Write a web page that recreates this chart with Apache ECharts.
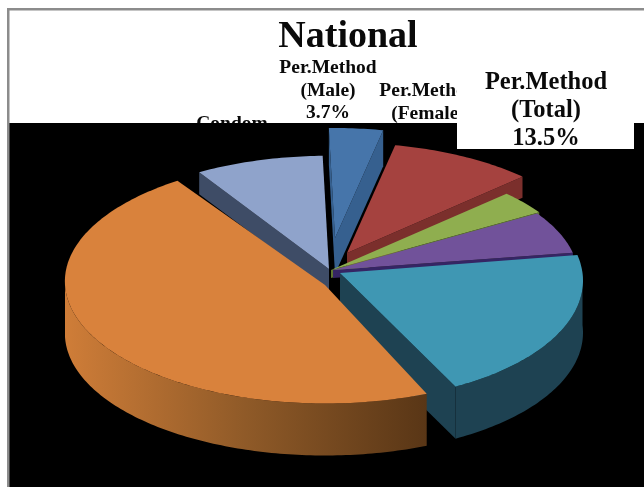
<!DOCTYPE html>
<html>
<head>
<meta charset="utf-8">
<style>html,body{margin:0;padding:0;background:#fff}#c{width:644px;height:487px}</style>
<script src="https://cdn.jsdelivr.net/npm/echarts@6/dist/echarts.min.js"></script>
</head>
<body>
<div id="c"></div>
<script>
// Data (only the first slices carry legible labels)
var categories = ['Per.Method (Male)', 'Per.Method (Female)', 'Slice 3', 'Slice 4', 'Slice 5', 'Slice 6', 'Condom'];
var shares = [3.7, 9.8, 3.4, 6.1, 20.0, 48.5, 8.5];
var titleText = 'National';
var maleLabel = ['Per.Method', '(Male)', '3.7%'];
var femaleLabel = ['Per.Method', '(Female)'];
var condomLabel = ['Condom'];
var totalLabel = ['Per.Method', '(Total)', '13.5%'];

// Look of the 3D pie
var SERIF = '"Liberation Serif","Times New Roman",serif';
var startAngle = -1.5;
var disk = { cx: 331, cy: 270, rx: 250, ry: 117 };
var sliceOffsetX = [4, 16, 0, 2, 9, -6, -2];
var sliceOffsetY = [-32, -17, 0, 0, 3, 15, -1];
var sliceScaleX = [1, 1, 1, 0.98, 0.97, 1.04, 1.03];
var sliceScaleY = [1, 1, 1, 0.98, 1.025, 1.043, 1.03];
var slicePersp = [0.064, 0.064, 0.064, 0.064, 0.064, -0.03, 0.064];
var sliceStartNudge = [0, 0, 0, 0, 0, 3, 0];
var sliceEndNudge = [0, 0, 0, 0, 0, -1.5, 0];
var sliceDepth = [36, 21, 8, 8, 52, 52, 22];
var paintRank = [1, 2, 3, 4, 5, 7, 6];
var topColors = ['#4675aa', '#a5423f', '#8fae4f', '#71529a', '#3f97b3', '#d9823c', '#8fa3cb'];
var wallColors = ['#36608f', '#7b2f2c', '#5e7530', '#352564', '#1e4252', null, '#3e4c66'];
var orangeWall = ['#cf7d38', '#8f5a28', '#593616'];

function sliceAngles(i) {
  var total = shares.reduce(function (a, b) { return a + b; }, 0), acc = 0;
  for (var k = 0; k < i; k++) acc += shares[k];
  return [
    startAngle + acc / total * 360 + sliceStartNudge[i],
    startAngle + (acc + shares[i]) / total * 360 + sliceEndNudge[i]
  ];
}
function project(i, frac, deg, drop) {
  var t = deg * Math.PI / 180;
  var X = frac * Math.sin(t), Y = -frac * Math.cos(t);
  var den = 1 - slicePersp[i] * Y;
  return [
    disk.cx + sliceOffsetX[i] + sliceScaleX[i] * disk.rx * X / den,
    disk.cy + sliceOffsetY[i] + sliceScaleY[i] * disk.ry * Y / den + (drop || 0)
  ];
}
function arc(i, a, b, drop) {
  var pts = [], n = Math.max(2, Math.ceil(Math.abs(b - a)));
  for (var k = 0; k <= n; k++) pts.push(project(i, 1, a + (b - a) * k / n, drop));
  return pts;
}
function renderSlice(params, api) {
  var i = params.dataIndex, ang = sliceAngles(i), a = ang[0], b = ang[1];
  var d = sliceDepth[i], z = paintRank[i] * 10, kids = [];
  var wall = wallColors[i] || new echarts.graphic.LinearGradient(0, 0, 1, 0, [
    { offset: 0, color: orangeWall[0] }, { offset: 0.5, color: orangeWall[1] }, { offset: 1, color: orangeWall[2] }
  ]);
  var flat = wallColors[i] || orangeWall[2];
  function cut(deg) {
    var p0 = project(i, 0, deg), p1 = project(i, 1, deg);
    kids.push({ type: 'polygon', z2: z, shape: { points: [p0, p1, [p1[0], p1[1] + d], [p0[0], p0[1] + d]] }, style: { fill: flat } });
  }
  if (Math.sin(a * Math.PI / 180) < 0) cut(a);
  if (Math.sin(b * Math.PI / 180) > 0) cut(b);
  var fa = Math.max(a, 90), fb = Math.min(b, 270);
  if (fb > fa) {
    var up = arc(i, fa, fb, 0), down = arc(i, fa, fb, d).reverse();
    kids.push({ type: 'polygon', z2: z + 1, shape: { points: up.concat(down) }, style: { fill: wall } });
  }
  kids.push({
    type: 'polygon', z2: z + 2,
    shape: { points: [project(i, 0, a)].concat(arc(i, a, b, 0)) },
    style: { fill: topColors[i] }
  });
  return { type: 'group', children: kids };
}
function stack(lines, cx, firstY, gap, size, z) {
  return lines.map(function (s, k) {
    return {
      type: 'text', z: z, silent: true,
      style: {
        text: s, x: cx, y: firstY + k * gap, align: 'center', verticalAlign: 'middle',
        font: 'bold ' + size + 'px ' + SERIF, fill: '#0a0a0a'
      }
    };
  });
}
var graphics = [].concat(
  stack(maleLabel, 328, 68, 22.5, 19.5, 1),
  stack(femaleLabel, 428, 91, 22.5, 19.5, 1),
  stack(condomLabel, 232, 124, 22.5, 19.5, 1),
  [
    { type: 'rect', z: 2, silent: true, shape: { x: 9, y: 123, width: 635, height: 364 }, style: { fill: '#000' } },
    { type: 'rect', z: 3, silent: true, shape: { x: 457, y: 123, width: 177, height: 26 }, style: { fill: '#fff' } },
    { type: 'rect', z: 3, silent: true, shape: { x: 457, y: 70, width: 187, height: 53 }, style: { fill: '#fff' } },
    { type: 'rect', z: 3, silent: true, shape: { x: 7, y: 8, width: 637, height: 2.5 }, style: { fill: '#8c8c8c' } },
    { type: 'rect', z: 3, silent: true, shape: { x: 7, y: 8, width: 2.5, height: 479 }, style: { fill: '#8c8c8c' } }
  ],
  stack(totalLabel, 546, 83, 28, 24.5, 4)
);
var chart = echarts.init(document.getElementById('c'), null, { renderer: 'canvas' });
chart.setOption({
  animation: false,
  backgroundColor: '#fff',
  title: {
    text: titleText, left: 348, top: 18, textAlign: 'center', padding: 0,
    textStyle: { fontFamily: SERIF, fontWeight: 'bold', fontSize: 38, color: '#0a0a0a' }
  },
  graphic: { elements: graphics },
  series: [{
    type: 'custom', coordinateSystem: 'none', z: 5, silent: true,
    renderItem: renderSlice,
    data: categories.map(function (c, i) { return { name: c, value: [shares[i]] }; })
  }]
});
</script>
</body>
</html>
